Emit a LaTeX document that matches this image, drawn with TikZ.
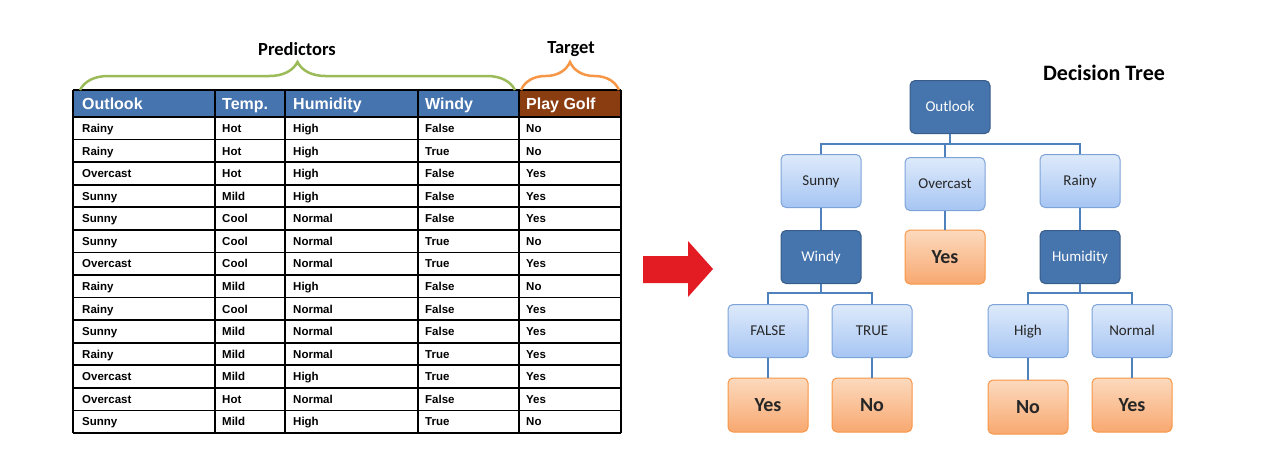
\documentclass[tikz,border=0pt]{standalone}
\usepackage{fontspec}
\setmainfont{Carlito}
\newfontfamily\tablefont{Liberation Sans}
\usetikzlibrary{decorations.pathreplacing}

\definecolor{hdrblue}{RGB}{70,116,174}
\definecolor{hdrbrown}{RGB}{139,61,18}
\definecolor{bracegreen}{RGB}{155,187,89}
\definecolor{braceorange}{RGB}{247,150,70}
\definecolor{arrowred}{RGB}{227,27,35}
\definecolor{treeblue}{RGB}{70,116,172}
\definecolor{treeline}{RGB}{56,93,138}
\definecolor{lighttop}{RGB}{222,234,251}
\definecolor{lightbot}{RGB}{166,197,243}
\definecolor{lightline}{RGB}{125,163,217}
\definecolor{leaftop}{RGB}{252,218,190}
\definecolor{leafbot}{RGB}{248,168,112}
\definecolor{leafline}{RGB}{247,150,70}
\definecolor{linkblue}{RGB}{79,129,189}

\begin{document}
\begin{tikzpicture}[
  x=1pt, y=-1pt,
  grid/.style={black, line width=1.6pt},
  head/.style={anchor=base west, inner sep=0pt, text=white, font=\tablefont\bfseries\fontsize{16}{18}\selectfont},
  cell/.style={anchor=base west, inner sep=0pt, font=\tablefont\bfseries\fontsize{11.5}{13}\selectfont},
  brace/.style={decorate, decoration={brace, amplitude=28pt}, line width=2.5pt},
  title/.style={font=\bfseries\fontsize{18.5}{21}\selectfont},
  treebox/.style={line width=1pt, rounded corners=5pt, minimum width=80pt, minimum height=53pt, text height=12pt, text depth=2.3pt},
  darkbox/.style={treebox, draw=treeline, fill=treeblue, text=white, font=\fontsize{15}{18}\selectfont},
  lightbox/.style={treebox, draw=lightline, top color=lighttop, bottom color=lightbot, text=black!85, font=\fontsize{15}{18}\selectfont},
  leafbox/.style={treebox, draw=leafline, top color=leaftop, bottom color=leafbot, minimum height=54pt, text height=15pt, text depth=2.1pt, text=black!85, font=\bfseries\fontsize{20}{24}\selectfont},
  link/.style={draw=linkblue, line width=2pt}
]
\useasboundingbox (0,0) rectangle (1261,472);

% table
\fill[hdrblue] (73,90) rectangle (519,117);
\fill[hdrbrown] (519,90) rectangle (621,117);
\node[head] (hOutlook) at (82,109.2) {Outlook};
\node[head] (hTemp) at (222,109.2) {Temp.};
\node[head] (hHumidity) at (293,109.2) {Humidity};
\node[head] (hWindy) at (425,109.2) {Windy};
\node[head] (hPlay) at (526,109.2) {Play Golf};
\foreach \o/\t/\h/\w/\p [count=\r] in {
  Rainy/Hot/High/False/No, Rainy/Hot/High/True/No, Overcast/Hot/High/False/Yes,
  Sunny/Mild/High/False/Yes, Sunny/Cool/Normal/False/Yes, Sunny/Cool/Normal/True/No,
  Overcast/Cool/Normal/True/Yes, Rainy/Mild/High/False/No, Rainy/Cool/Normal/False/Yes,
  Sunny/Mild/Normal/False/Yes, Rainy/Mild/Normal/True/Yes, Overcast/Mild/High/True/Yes,
  Overcast/Hot/Normal/False/Yes, Sunny/Mild/High/True/No}{
  \node[cell] (o\r) at (82,{110+\r*22.57}) {\o};
  \node[cell] (t\r) at (222,{110+\r*22.57}) {\t};
  \node[cell] (h\r) at (293,{110+\r*22.57}) {\h};
  \node[cell] (w\r) at (425,{110+\r*22.57}) {\w};
  \node[cell] (p\r) at (526,{110+\r*22.57}) {\p};
}
\draw[grid] (73,90) -- (621,90);
\foreach \r in {0,...,14}
  \draw[grid] (73,{117+\r*22.57}) -- (621,{117+\r*22.57});
\foreach \x in {73,215,285,418,519,621}
  \draw[grid] (\x,90) -- (\x,433);

\draw[brace, draw=bracegreen] (80,90) -- (515,90);
\draw[brace, draw=braceorange] (521,90) -- (619,90);
\node[title] (predictors) at (297,49) {Predictors};
\node[title] (target) at (571,49) {Target};

\fill[arrowred] (643,256) -- (688,256) -- (688,241) -- (713,269) -- (688,297) -- (688,283) -- (643,283) -- cycle;

% tree
\node[font=\bfseries\fontsize{22}{26}\selectfont] (dtree) at (1104,73) {Decision Tree};
\node[darkbox] (outlook) at (950,107) {Outlook};
\node[lightbox] (sunny) at (821,181) {Sunny};
\node[lightbox] (overcast) at (945,184) {Overcast};
\node[lightbox] (rainy) at (1080,181) {Rainy};
\node[darkbox] (windy) at (821,257) {Windy};
\node[leafbox] (yesO) at (945,257) {Yes};
\node[darkbox] (humidity) at (1080,257) {Humidity};
\node[lightbox] (false) at (768,331) {FALSE};
\node[lightbox] (true) at (872,331) {TRUE};
\node[lightbox] (high) at (1028,331) {High};
\node[lightbox] (normal) at (1132,331) {Normal};
\node[leafbox] (yesF) at (768,405) {Yes};
\node[leafbox] (noT) at (872,405) {No};
\node[leafbox] (noH) at (1028,407) {No};
\node[leafbox] (yesN) at (1132,405) {Yes};

\draw[link] (outlook.south) -- ++(0,10) -| (sunny.north);
\draw[link] (outlook.south) -- ++(0,10) -| (overcast.north);
\draw[link] (outlook.south) -- ++(0,10) -| (rainy.north);
\draw[link] (sunny) -- (windy);
\draw[link] (overcast) -- (yesO);
\draw[link] (rainy) -- (humidity);
\draw[link] (windy.south) -- ++(0,9) -| (false.north);
\draw[link] (windy.south) -- ++(0,9) -| (true.north);
\draw[link] (humidity.south) -- ++(0,9) -| (high.north);
\draw[link] (humidity.south) -- ++(0,9) -| (normal.north);
\draw[link] (false) -- (yesF);
\draw[link] (true) -- (noT);
\draw[link] (high) -- (noH);
\draw[link] (normal) -- (yesN);
\end{tikzpicture}
\end{document}
